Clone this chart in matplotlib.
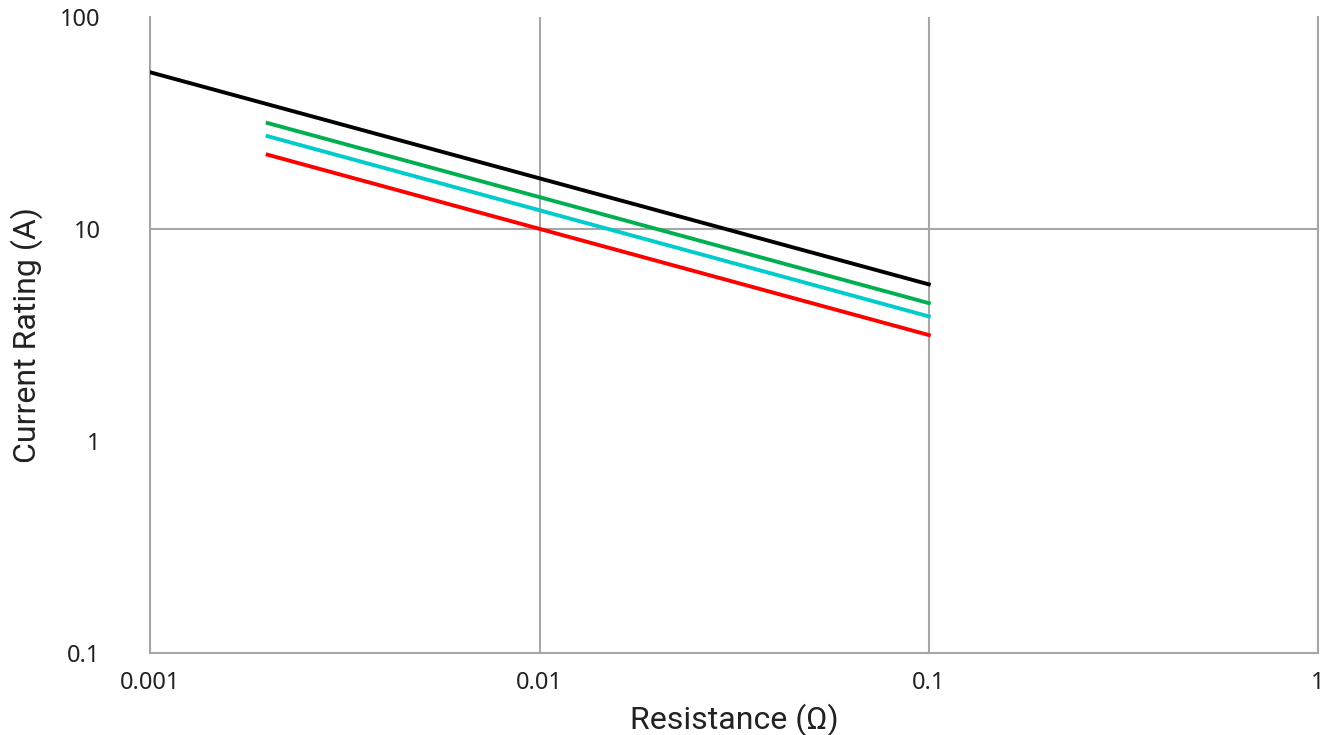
import matplotlib
matplotlib.use("Agg")
import matplotlib.pyplot as plt

# -------------------------------
# Data
# -------------------------------
# each rating line is straight on log-log axes, so two end points are enough
x_black = [0.001, 0.1]
y_black = [54.8, 5.48]

x_short = [0.002, 0.1]
y_green = [31.6, 4.47]
y_cyan = [27.4, 3.87]
y_red = [22.4, 3.16]

x_ticks = [0.001, 0.01, 0.1, 1]
x_tick_labels = ["0.001", "0.01", "0.1", "1"]
y_ticks = [0.1, 1, 10, 100]
y_tick_labels = ["0.1", "1", "10", "100"]

GRID = "#a6a6a6"
TEXT = "#222222"

# -------------------------------
# Plot
# -------------------------------
fig = plt.figure(figsize=(13.27, 7.35), dpi=100)
ax = fig.add_axes([0.1134, 0.1116, 0.8798, 0.8653])

ax.set_xscale("log")
ax.set_yscale("log")
ax.set_xlim(0.001, 1)
ax.set_ylim(0.1, 100)

# grid: vertical lines at each decade, one horizontal line at 10
ax.grid(True, axis="x", which="major", color=GRID, linewidth=1.5)
ax.axhline(10, color=GRID, linewidth=1.5, zorder=1)
ax.set_axisbelow(True)

for side in ["left", "right", "bottom"]:
    ax.spines[side].set_color(GRID)
    ax.spines[side].set_linewidth(1.5)
ax.spines["top"].set_visible(False)

ax.plot(x_black, y_black, color="#000000", linewidth=2.8, zorder=3)
ax.plot(x_short, y_green, color="#00b050", linewidth=2.8, zorder=3)
ax.plot(x_short, y_cyan, color="#00cccc", linewidth=2.8, zorder=3)
ax.plot(x_short, y_red, color="#ff0000", linewidth=2.8, zorder=3)

ax.minorticks_off()
ax.set_xticks(x_ticks)
ax.set_xticklabels(x_tick_labels, fontfamily="Noto Sans", fontsize=17, color=TEXT)
ax.set_yticks(y_ticks)
ax.set_yticklabels(y_tick_labels, fontfamily="Noto Sans", fontsize=17, color=TEXT)
ax.tick_params(axis="x", length=0, pad=13)
ax.tick_params(axis="y", length=0, pad=36)

ax.set_xlabel("Resistance (Ω)", fontfamily="Roboto", fontsize=23, color=TEXT, labelpad=6)
ax.set_ylabel("Current Rating (A)", fontfamily="Roboto", fontsize=23, color=TEXT, labelpad=12)

fig.savefig("out.png", dpi=100, facecolor="white")
